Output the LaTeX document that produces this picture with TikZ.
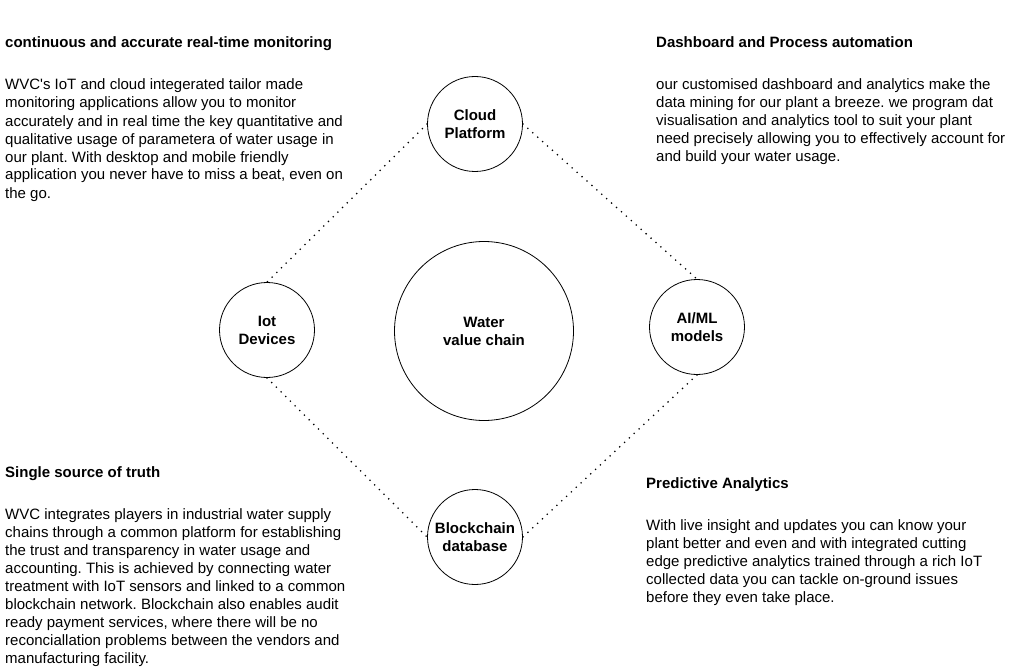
\documentclass[tikz,border=0pt]{standalone}
\usepackage{fontspec}
\setmainfont{Liberation Sans}
\usetikzlibrary{calc}
\frenchspacing

\tikzset{
  blob/.style={draw,circle,line width=0.8pt,minimum size=95pt,inner sep=0pt,
    align=center,font=\fontsize{15}{18}\selectfont\bfseries},
  dotline/.style={line width=1.8pt,line cap=round,dash pattern=on 0pt off 6.6pt},
  head/.style={anchor=base west,inner sep=0pt,font=\fontsize{15}{18}\selectfont\bfseries},
  blurb/.style={anchor=base west,inner sep=0pt,align=left,font=\fontsize{15}{18}\selectfont}
}

\begin{document}
\begin{tikzpicture}[x=1pt,y=-1pt]
    \useasboundingbox[fill=white] (0,0) rectangle (1011,671);
    % circles
    \node[blob] (cloud) at (475,124) {Cloud\\Platform};
    \node[blob] (iot) at (267,330) {Iot\\Devices};
    \node[blob] (aiml) at (697,327) {AI/ML\\models};
    \node[blob] (chain) at (475,537) {Blockchain\\database};
    \node[blob,minimum size=179pt] (water) at (484,331) {Water\\value chain};
    \path[dotline]
      (cloud.west) edge (iot.north)
      (cloud.east) edge (aiml.north)
      (iot.south) edge (chain.west)
      (aiml.south) edge (chain.east);
    % texts (blurb base = last line)
    \node[head] (monhead) at (5,48) {continuous and accurate real-time monitoring};
    \node[blurb] (montext) at (5,198) {WVC\textquotesingle s IoT and cloud integerated tailor made\\
      monitoring applications allow you to monitor\\
      accurately and in real time the key quantitative and\\
      qualitative usage of parametera of water usage in\\
      our plant. With desktop and mobile friendly\\
      application you never have to miss a beat, even on\\
      the go.};
    \node[head] (dashhead) at (656,48) {Dashboard and Process automation};
    \node[blurb] (dashtext) at (656,162) {our customised dashboard and analytics make the\\
      data mining for our plant a breeze. we program dat\\
      visualisation and analytics tool to suit your plant\\
      need precisely allowing you to effectively account for\\
      and build your water usage.};
    \node[head] (truthhead) at (5,477) {Single source of truth};
    \node[blurb] (truthtext) at (5,663) {WVC integrates players in industrial water supply\\
      chains through a common platform for establishing\\
      the trust and transparency in water usage and\\
      accounting. This is achieved by connecting water\\
      treatment with IoT sensors and linked to a common\\
      blockchain network. Blockchain also enables audit\\
      ready payment services, where there will be no\\
      reconciallation problems between the vendors and\\
      manufacturing facility.};
    \node[head] (predhead) at (646,488) {Predictive Analytics};
    \node[blurb] (predtext) at (646,602) {With live insight and updates you can know your\\
      plant better and even and with integrated cutting\\
      edge predictive analytics trained through a rich IoT\\
      collected data you can tackle on-ground issues\\
      before they even take place.};
  \end{tikzpicture}
\end{document}
